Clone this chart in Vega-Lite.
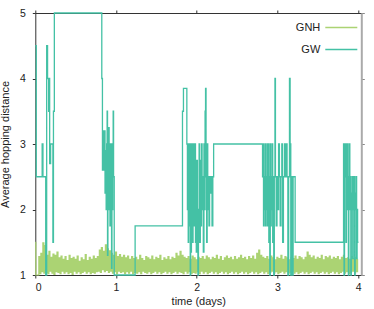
{
"$schema":"https://vega.github.io/schema/vega-lite/v6.json",
"width":326,"height":262,
"autosize":{"type":"none"},
"padding":{"left":35.3,"top":13,"right":12.7,"bottom":34},
"config":{"view":{"stroke":null},"font":"Liberation Sans",
"axis":{"grid":false,"domainColor":"#333","tickColor":"#333","tickSize":3,"labelFontSize":10.5,"labelColor":"#222","titleFontSize":11,"titleFontWeight":"normal","titleColor":"#222"}},
"datasets":{
"gnh":[
{"t":0,"v":1.5},{"t":0.0125,"v":1.0},{"t":0.025,"v":1.0},{"t":0.0375,"v":1.0},{"t":0.05,"v":1.28},{"t":0.0625,"v":1.02},{"t":0.075,"v":1.33},{"t":0.0875,"v":1.05},
{"t":0.1,"v":1.49},{"t":0.1125,"v":1.03},{"t":0.125,"v":1.45},{"t":0.1375,"v":1.04},{"t":0.15,"v":1.3},{"t":0.1625,"v":1.02},{"t":0.175,"v":1.36},{"t":0.1875,"v":1.06},
{"t":0.2,"v":1.27},{"t":0.2125,"v":1.03},{"t":0.225,"v":1.32},{"t":0.2375,"v":1.01},{"t":0.25,"v":1.3},{"t":0.2625,"v":1.05},{"t":0.275,"v":1.35},{"t":0.2875,"v":1.04},
{"t":0.3,"v":1.26},{"t":0.3125,"v":1.02},{"t":0.325,"v":1.29},{"t":0.3375,"v":1.06},{"t":0.35,"v":1.24},{"t":0.3625,"v":1.03},{"t":0.375,"v":1.28},{"t":0.3875,"v":1.05},
{"t":0.4,"v":1.22},{"t":0.4125,"v":1.02},{"t":0.425,"v":1.3},{"t":0.4375,"v":1.04},{"t":0.45,"v":1.25},{"t":0.4625,"v":1.01},{"t":0.475,"v":1.27},{"t":0.4875,"v":1.06},
{"t":0.5,"v":1.24},{"t":0.5125,"v":1.03},{"t":0.525,"v":1.29},{"t":0.5375,"v":1.05},{"t":0.55,"v":1.21},{"t":0.5625,"v":1.02},{"t":0.575,"v":1.26},{"t":0.5875,"v":1.04},
{"t":0.6,"v":1.23},{"t":0.6125,"v":1.06},{"t":0.625,"v":1.31},{"t":0.6375,"v":1.03},{"t":0.65,"v":1.22},{"t":0.6625,"v":1.05},{"t":0.675,"v":1.27},{"t":0.6875,"v":1.02},
{"t":0.7,"v":1.24},{"t":0.7125,"v":1.04},{"t":0.725,"v":1.29},{"t":0.7375,"v":1.03},{"t":0.75,"v":1.25},{"t":0.7625,"v":1.05},{"t":0.775,"v":1.28},{"t":0.7875,"v":1.06},
{"t":0.8,"v":1.38},{"t":0.8125,"v":1.04},{"t":0.825,"v":1.42},{"t":0.8375,"v":1.08},{"t":0.85,"v":1.36},{"t":0.8625,"v":1.05},{"t":0.875,"v":1.46},{"t":0.8875,"v":1.07},
{"t":0.9,"v":1.4},{"t":0.9125,"v":1.04},{"t":0.925,"v":1.37},{"t":0.9375,"v":1.06},{"t":0.95,"v":1.33},{"t":0.9625,"v":1.03},{"t":0.975,"v":1.3},{"t":0.9875,"v":1.05},
{"t":1.0,"v":1.35},{"t":1.0125,"v":1.02},{"t":1.025,"v":1.28},{"t":1.0375,"v":1.06},{"t":1.05,"v":1.31},{"t":1.0625,"v":1.04},{"t":1.075,"v":1.27},{"t":1.0875,"v":1.05},
{"t":1.1,"v":1.3},{"t":1.1125,"v":1.02},{"t":1.125,"v":1.26},{"t":1.1375,"v":1.05},{"t":1.15,"v":1.29},{"t":1.1625,"v":1.03},{"t":1.175,"v":1.24},{"t":1.1875,"v":1.06},
{"t":1.2,"v":1.28},{"t":1.2125,"v":1.02},{"t":1.225,"v":1.25},{"t":1.2375,"v":1.04},{"t":1.25,"v":1.27},{"t":1.2625,"v":1.03},{"t":1.275,"v":1.23},{"t":1.2875,"v":1.05},
{"t":1.3,"v":1.3},{"t":1.3125,"v":1.02},{"t":1.325,"v":1.25},{"t":1.3375,"v":1.06},{"t":1.35,"v":1.22},{"t":1.3625,"v":1.04},{"t":1.375,"v":1.28},{"t":1.3875,"v":1.03},
{"t":1.4,"v":1.26},{"t":1.4125,"v":1.05},{"t":1.425,"v":1.24},{"t":1.4375,"v":1.02},{"t":1.45,"v":1.29},{"t":1.4625,"v":1.04},{"t":1.475,"v":1.23},{"t":1.4875,"v":1.06},
{"t":1.5,"v":1.27},{"t":1.5125,"v":1.03},{"t":1.525,"v":1.25},{"t":1.5375,"v":1.05},{"t":1.55,"v":1.3},{"t":1.5625,"v":1.02},{"t":1.575,"v":1.22},{"t":1.5875,"v":1.04},
{"t":1.6,"v":1.26},{"t":1.6125,"v":1.06},{"t":1.625,"v":1.24},{"t":1.6375,"v":1.03},{"t":1.65,"v":1.28},{"t":1.6625,"v":1.05},{"t":1.675,"v":1.23},{"t":1.6875,"v":1.02},
{"t":1.7,"v":1.27},{"t":1.7125,"v":1.04},{"t":1.725,"v":1.25},{"t":1.7375,"v":1.06},{"t":1.75,"v":1.33},{"t":1.7625,"v":1.03},{"t":1.775,"v":1.29},{"t":1.7875,"v":1.05},
{"t":1.8,"v":1.36},{"t":1.8125,"v":1.04},{"t":1.825,"v":1.3},{"t":1.8375,"v":1.02},{"t":1.85,"v":1.27},{"t":1.8625,"v":1.06},{"t":1.875,"v":1.25},{"t":1.8875,"v":1.03},
{"t":1.9,"v":1.28},{"t":1.9125,"v":1.05},{"t":1.925,"v":1.24},{"t":1.9375,"v":1.02},{"t":1.95,"v":1.29},{"t":1.9625,"v":1.04},{"t":1.975,"v":1.26},{"t":1.9875,"v":1.03},
{"t":2.0,"v":1.23},{"t":2.0125,"v":1.05},{"t":2.025,"v":1.27},{"t":2.0375,"v":1.02},{"t":2.05,"v":1.25},{"t":2.0625,"v":1.06},{"t":2.075,"v":1.28},{"t":2.0875,"v":1.03},
{"t":2.1,"v":1.24},{"t":2.1125,"v":1.05},{"t":2.125,"v":1.29},{"t":2.1375,"v":1.02},{"t":2.15,"v":1.26},{"t":2.1625,"v":1.04},{"t":2.175,"v":1.23},{"t":2.1875,"v":1.06},
{"t":2.2,"v":1.27},{"t":2.2125,"v":1.03},{"t":2.225,"v":1.25},{"t":2.2375,"v":1.05},{"t":2.25,"v":1.3},{"t":2.2625,"v":1.02},{"t":2.275,"v":1.24},{"t":2.2875,"v":1.04},
{"t":2.3,"v":1.28},{"t":2.3125,"v":1.06},{"t":2.325,"v":1.22},{"t":2.3375,"v":1.03},{"t":2.35,"v":1.26},{"t":2.3625,"v":1.05},{"t":2.375,"v":1.29},{"t":2.3875,"v":1.02},
{"t":2.4,"v":1.25},{"t":2.4125,"v":1.04},{"t":2.425,"v":1.27},{"t":2.4375,"v":1.06},{"t":2.45,"v":1.23},{"t":2.4625,"v":1.03},{"t":2.475,"v":1.28},{"t":2.4875,"v":1.05},
{"t":2.5,"v":1.24},{"t":2.5125,"v":1.02},{"t":2.525,"v":1.26},{"t":2.5375,"v":1.04},{"t":2.55,"v":1.3},{"t":2.5625,"v":1.06},{"t":2.575,"v":1.25},{"t":2.5875,"v":1.03},
{"t":2.6,"v":1.27},{"t":2.6125,"v":1.05},{"t":2.625,"v":1.23},{"t":2.6375,"v":1.02},{"t":2.65,"v":1.28},{"t":2.6625,"v":1.04},{"t":2.675,"v":1.25},{"t":2.6875,"v":1.06},
{"t":2.7,"v":1.29},{"t":2.7125,"v":1.03},{"t":2.725,"v":1.24},{"t":2.7375,"v":1.05},{"t":2.75,"v":1.33},{"t":2.7625,"v":1.02},{"t":2.775,"v":1.38},{"t":2.7875,"v":1.04},
{"t":2.8,"v":1.3},{"t":2.8125,"v":1.06},{"t":2.825,"v":1.27},{"t":2.8375,"v":1.03},{"t":2.85,"v":1.25},{"t":2.8625,"v":1.05},{"t":2.875,"v":1.28},{"t":2.8875,"v":1.02},
{"t":2.9,"v":1.24},{"t":2.9125,"v":1.04},{"t":2.925,"v":1.29},{"t":2.9375,"v":1.06},{"t":2.95,"v":1.26},{"t":2.9625,"v":1.03},{"t":2.975,"v":1.23},{"t":2.9875,"v":1.05},
{"t":3.0,"v":1.27},{"t":3.0125,"v":1.02},{"t":3.025,"v":1.25},{"t":3.0375,"v":1.04},{"t":3.05,"v":1.3},{"t":3.0625,"v":1.06},{"t":3.075,"v":1.24},{"t":3.0875,"v":1.03},
{"t":3.1,"v":1.28},{"t":3.1125,"v":1.05},{"t":3.125,"v":1.26},{"t":3.1375,"v":1.02},{"t":3.15,"v":1.23},{"t":3.1625,"v":1.04},{"t":3.175,"v":1.27},{"t":3.1875,"v":1.06},
{"t":3.2,"v":1.25},{"t":3.2125,"v":1.03},{"t":3.225,"v":1.29},{"t":3.2375,"v":1.05},{"t":3.25,"v":1.24},{"t":3.2625,"v":1.02},{"t":3.275,"v":1.28},{"t":3.2875,"v":1.04},
{"t":3.3,"v":1.26},{"t":3.3125,"v":1.06},{"t":3.325,"v":1.23},{"t":3.3375,"v":1.03},{"t":3.35,"v":1.27},{"t":3.3625,"v":1.05},{"t":3.375,"v":1.35},{"t":3.3875,"v":1.02},
{"t":3.4,"v":1.3},{"t":3.4125,"v":1.04},{"t":3.425,"v":1.26},{"t":3.4375,"v":1.06},{"t":3.45,"v":1.29},{"t":3.4625,"v":1.03},{"t":3.475,"v":1.24},{"t":3.4875,"v":1.05},
{"t":3.5,"v":1.27},{"t":3.5125,"v":1.02},{"t":3.525,"v":1.25},{"t":3.5375,"v":1.04},{"t":3.55,"v":1.3},{"t":3.5625,"v":1.06},{"t":3.575,"v":1.23},{"t":3.5875,"v":1.03},
{"t":3.6,"v":1.28},{"t":3.6125,"v":1.05},{"t":3.625,"v":1.26},{"t":3.6375,"v":1.02},{"t":3.65,"v":1.29},{"t":3.6625,"v":1.04},{"t":3.675,"v":1.24},{"t":3.6875,"v":1.06},
{"t":3.7,"v":1.27},{"t":3.7125,"v":1.03},{"t":3.725,"v":1.25},{"t":3.7375,"v":1.05},{"t":3.75,"v":1.28},{"t":3.7625,"v":1.02},{"t":3.775,"v":1.23},{"t":3.7875,"v":1.04},
{"t":3.8,"v":1.27},{"t":3.8125,"v":1.06},{"t":3.825,"v":1.3},{"t":3.8375,"v":1.03},{"t":3.85,"v":1.25},{"t":3.8625,"v":1.05},{"t":3.875,"v":1.26},{"t":3.8875,"v":1.02},
{"t":3.9,"v":1.24},{"t":3.9125,"v":1.04},{"t":3.925,"v":1.28},{"t":3.9375,"v":1.06},{"t":3.95,"v":1.25},{"t":3.9625,"v":1.03},{"t":3.975,"v":1.27},{"t":3.9875,"v":1.05},
{"t":4.0,"v":1.24}
],
"gw":[
{"t":0,"v":4.5},{"t":0.012,"v":2.5},{"t":0.085,"v":3.0},{"t":0.095,"v":2.5},{"t":0.129,"v":1.0},{"t":0.141,"v":4.5},{"t":0.152,"v":4.0},{"t":0.165,"v":3.5},{"t":0.172,"v":4.0},{"t":0.178,"v":2.7},{"t":0.19,"v":3.0},{"t":0.218,"v":1.5},{"t":0.225,"v":3.5},{"t":0.236,"v":5.0},
{"t":0.824,"v":4.0},{"t":0.832,"v":2.6},{"t":0.84,"v":3.2},{"t":0.848,"v":2.6},{"t":0.856,"v":3.2},{"t":0.864,"v":2.25},{"t":0.872,"v":2.9},{"t":0.878,"v":2.0},{"t":0.884,"v":3.0},{"t":0.89,"v":3.5},{"t":0.895,"v":1.3},{"t":0.9,"v":3.0},{"t":0.905,"v":2.0},{"t":0.91,"v":3.25},{"t":0.915,"v":2.5},{"t":0.92,"v":3.0},{"t":0.925,"v":1.75},{"t":0.93,"v":3.0},{"t":0.935,"v":2.25},{"t":0.94,"v":3.0},{"t":0.945,"v":1.1},{"t":0.95,"v":2.75},{"t":0.955,"v":2.0},{"t":0.96,"v":3.0},{"t":0.965,"v":3.5},{"t":0.97,"v":2.5},{"t":0.978,"v":1.0},
{"t":1.237,"v":1.75},
{"t":1.824,"v":3.5},{"t":1.836,"v":3.85},{"t":1.878,"v":3.0},{"t":1.885,"v":2.0},{"t":1.89,"v":3.0},{"t":1.895,"v":1.5},{"t":1.9,"v":2.75},{"t":1.905,"v":1.75},{"t":1.91,"v":3.0},{"t":1.915,"v":2.0},{"t":1.92,"v":1.0},{"t":1.925,"v":3.0},{"t":1.93,"v":1.35},{"t":1.935,"v":3.0},{"t":1.94,"v":2.25},{"t":1.945,"v":3.0},{"t":1.95,"v":1.5},{"t":1.955,"v":2.75},{"t":1.96,"v":2.0},{"t":1.965,"v":3.0},{"t":1.97,"v":1.75},{"t":1.975,"v":2.5},{"t":1.98,"v":3.0},{"t":1.985,"v":1.5},{"t":1.99,"v":2.5},{"t":1.995,"v":1.35},{"t":2.0,"v":2.75},{"t":2.008,"v":1.35},{"t":2.015,"v":1.0},{"t":2.022,"v":2.0},{"t":2.03,"v":3.0},{"t":2.037,"v":1.5},{"t":2.045,"v":2.75},{"t":2.052,"v":1.75},{"t":2.06,"v":3.0},{"t":2.067,"v":2.0},{"t":2.075,"v":2.5},{"t":2.082,"v":1.35},{"t":2.09,"v":3.0},{"t":2.097,"v":2.0},{"t":2.104,"v":3.5},{"t":2.11,"v":3.85},{"t":2.116,"v":2.5},{"t":2.123,"v":1.5},{"t":2.13,"v":3.0},{"t":2.137,"v":2.0},{"t":2.145,"v":2.5},{"t":2.152,"v":1.75},{"t":2.16,"v":2.5},{"t":2.17,"v":2.25},{"t":2.18,"v":2.5},{"t":2.19,"v":1.75},{"t":2.2,"v":2.5},{"t":2.21,"v":3.0},
{"t":2.816,"v":2.5},{"t":2.822,"v":3.0},{"t":2.828,"v":1.75},{"t":2.834,"v":2.5},{"t":2.84,"v":2.0},{"t":2.846,"v":3.0},{"t":2.852,"v":1.75},{"t":2.858,"v":2.5},{"t":2.864,"v":2.0},{"t":2.87,"v":3.0},{"t":2.876,"v":1.75},{"t":2.882,"v":2.5},{"t":2.888,"v":3.0},{"t":2.894,"v":1.5},{"t":2.9,"v":2.5},{"t":2.906,"v":1.0},{"t":2.912,"v":3.0},{"t":2.918,"v":1.75},{"t":2.924,"v":2.5},{"t":2.93,"v":2.0},{"t":2.936,"v":3.0},{"t":2.942,"v":1.5},{"t":2.948,"v":2.5},{"t":2.955,"v":1.0},{"t":2.962,"v":2.5},{"t":2.97,"v":4.0},{"t":2.976,"v":2.5},{"t":2.985,"v":1.75},{"t":2.995,"v":2.5},{"t":3.005,"v":2.0},{"t":3.015,"v":3.0},{"t":3.025,"v":2.5},{"t":3.035,"v":1.75},{"t":3.045,"v":2.5},{"t":3.055,"v":3.0},{"t":3.065,"v":1.5},{"t":3.075,"v":2.5},{"t":3.09,"v":3.0},{"t":3.1,"v":2.5},{"t":3.11,"v":3.0},{"t":3.12,"v":2.5},{"t":3.13,"v":1.0},{"t":3.14,"v":2.5},{"t":3.15,"v":4.0},{"t":3.158,"v":3.0},{"t":3.166,"v":1.0},{"t":3.175,"v":2.5},{"t":3.185,"v":1.0},{"t":3.195,"v":2.5},{"t":3.22,"v":1.5},
{"t":3.82,"v":3.0},{"t":3.826,"v":1.0},{"t":3.832,"v":2.5},{"t":3.838,"v":3.0},{"t":3.844,"v":2.5},{"t":3.85,"v":1.5},{"t":3.856,"v":3.0},{"t":3.862,"v":2.0},{"t":3.868,"v":3.0},{"t":3.874,"v":2.5},{"t":3.88,"v":1.0},{"t":3.886,"v":2.5},{"t":3.892,"v":3.0},{"t":3.898,"v":2.0},{"t":3.904,"v":2.5},{"t":3.91,"v":1.0},{"t":3.916,"v":2.25},{"t":3.922,"v":2.0},{"t":3.928,"v":2.5},{"t":3.934,"v":1.25},{"t":3.94,"v":2.5},{"t":3.946,"v":2.0},{"t":3.952,"v":2.5},{"t":3.958,"v":1.0},{"t":3.964,"v":2.25},{"t":3.97,"v":2.0},{"t":3.976,"v":2.5},{"t":3.982,"v":1.25},{"t":3.988,"v":2.0},{"t":3.994,"v":1.5},{"t":4.005,"v":1.5}
]},
"layer":[
{"data":{"name":"gnh"},
"mark":{"type":"line","interpolate":"step","strokeWidth":1.2},
"encoding":{
"x":{"field":"t","type":"quantitative","scale":{"domain":[0,4.04],"nice":false,"zero":false},"axis":{"orient":"top","labels":false,"title":null,"values":[0,1,2,3,4],"domainColor":"#333"}},
"y":{"field":"v","type":"quantitative","scale":{"domain":[1,5],"nice":false,"zero":false},"axis":{"orient":"right","labels":false,"title":null,"values":[1,2,3,4,5],"domainColor":"#aaa","domainWidth":2,"tickColor":"#888"}},
"color":{"datum":"GNH","type":"nominal","scale":{"domain":["GNH","GW"],"range":["#abd373","#44c1a5"]},
"legend":{"title":null,"orient":"none","legendX":289,"legendY":-2.5,"symbolType":"stroke","symbolSize":1024,"symbolStrokeWidth":1.5,"labelAlign":"right","labelOffset":-38,"labelFontSize":11,"labelColor":"#222","rowPadding":-10.5,"padding":0}}}},
{"data":{"name":"gw"},
"mark":{"type":"line","interpolate":"step-after","strokeWidth":1.3},
"encoding":{
"x":{"field":"t","type":"quantitative","scale":{"domain":[0,4.04],"nice":false,"zero":false},"axis":{"orient":"bottom","title":"time (days)","values":[0,1,2,3,4],"labelBaseline":"alphabetic","labelPadding":12,"titleY":29,"titleBaseline":"alphabetic"}},
"y":{"field":"v","type":"quantitative","scale":{"domain":[1,5],"nice":false,"zero":false},"axis":{"orient":"left","title":"Average hopping distance","values":[1,2,3,4,5],"labelPadding":7,"titleX":-27,"titleBaseline":"alphabetic"}},
"color":{"datum":"GW","type":"nominal"}}}
],
"resolve":{"axis":{"x":"independent","y":"independent"}}
}
